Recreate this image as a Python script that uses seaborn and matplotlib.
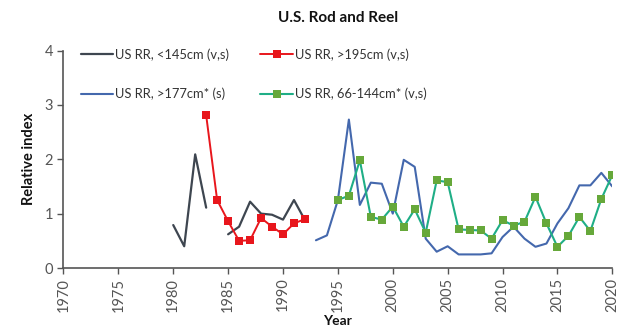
import numpy as np
import pandas as pd
import matplotlib
matplotlib.use("Agg")
import matplotlib.pyplot as plt
from matplotlib.lines import Line2D
import seaborn as sns

# Relative index series, US rod and reel
years_lt145 = [1980, 1981, 1982, 1983, 1985, 1986, 1987, 1988, 1989, 1990, 1991, 1992]
vals_lt145 = [0.79, 0.40, 2.09, 1.11, 0.62, 0.76, 1.22, 1.00, 0.98, 0.89, 1.25, 0.88]
seg_lt145 = [0, 0, 0, 0, 1, 1, 1, 1, 1, 1, 1, 1]

years_gt195 = list(range(1983, 1993))
vals_gt195 = [2.81, 1.25, 0.86, 0.50, 0.51, 0.92, 0.76, 0.62, 0.82, 0.90]

years_gt177 = list(range(1993, 2021))
vals_gt177 = [0.51, 0.60, 1.25, 2.73, 1.16, 1.57, 1.55, 1.00, 1.99, 1.86,
              0.54, 0.30, 0.40, 0.25, 0.25, 0.25, 0.27, 0.57, 0.76, 0.54,
              0.39, 0.45, 0.82, 1.10, 1.52, 1.52, 1.75, 1.50]

years_66_144 = list(range(1995, 2021))
vals_66_144 = [1.25, 1.33, 1.98, 0.94, 0.89, 1.13, 0.76, 1.08, 0.65, 1.61,
               1.58, 0.71, 0.70, 0.69, 0.54, 0.88, 0.78, 0.85, 1.31, 0.82,
               0.39, 0.59, 0.94, 0.68, 1.27, 1.71]

labels = ["US RR, <145cm (v,s)", "US RR, >195cm (v,s)",
          "US RR, >177cm* (s)", "US RR, 66-144cm* (v,s)"]

sns.set_theme(style="white")
plt.rcParams["font.family"] = ["Lato", "DejaVu Sans"]

fig = plt.figure(figsize=(6.18, 3.31), dpi=100)
ax = fig.add_axes([0.1027, 0.1903, 0.8881, 0.6571])

df_a = pd.DataFrame({"year": years_lt145, "val": vals_lt145, "seg": seg_lt145})
sns.lineplot(data=df_a, x="year", y="val", units="seg", estimator=None,
             color="#3e4650", lw=1.6, ax=ax, legend=False)

df_b = pd.DataFrame({"year": years_gt195, "val": vals_gt195})
sns.lineplot(data=df_b, x="year", y="val", color="#e8161c", lw=1.4,
             marker="s", markersize=5.5, markeredgewidth=0, ax=ax)

df_c = pd.DataFrame({"year": years_gt177, "val": vals_gt177})
sns.lineplot(data=df_c, x="year", y="val", color="#4468ad", lw=1.5, ax=ax)

df_d = pd.DataFrame({"year": years_66_144, "val": vals_66_144})
sns.lineplot(data=df_d, x="year", y="val", color="#1fae86", lw=1.5,
             marker="s", markersize=5.5, markerfacecolor="#66a83a",
             markeredgewidth=0, ax=ax)

handles = [
    Line2D([], [], color="#3e4650", lw=1.6),
    Line2D([], [], color="#4468ad", lw=1.5),
    Line2D([], [], color="#e8161c", lw=1.4, marker="s", markersize=5.5, markeredgewidth=0),
    Line2D([], [], color="#1fae86", lw=1.5, marker="s", markersize=5.5,
           markerfacecolor="#66a83a", markeredgewidth=0),
]
leg_labels = [labels[0], labels[2], labels[1], labels[3]]
ax.legend(handles, leg_labels, ncol=2, frameon=False, loc="upper left",
          bbox_to_anchor=(0.01, 1.065), fontsize=9.3, handlelength=2.5,
          handletextpad=0.2, columnspacing=2.4, labelspacing=2.1,
          labelcolor="#333333")

ax.set_xlim(1970, 2020)
ax.set_ylim(0, 4)
ax.set_xticks(range(1970, 2021, 5))
ax.set_yticks([0, 1, 2, 3, 4])
ax.tick_params(axis="x", labelrotation=90, labelsize=10.5, colors="#555555",
               length=4, width=1, direction="out", bottom=True, pad=3)
ax.tick_params(axis="y", labelsize=10.5, colors="#555555", length=4, width=1,
               direction="out", left=True)
for sp in ["top", "right"]:
    ax.spines[sp].set_visible(False)
for sp in ["left", "bottom"]:
    ax.spines[sp].set_color("#555555")
    ax.spines[sp].set_linewidth(1.2)

ax.set_xlabel("Year", fontsize=10, fontweight="bold", color="#111111", labelpad=2)
ax.set_ylabel("Relative index", fontsize=10.5, fontweight="bold", color="#111111", labelpad=6)
fig.text(0.547, 0.945, "U.S. Rod and Reel", ha="center", va="center",
         fontsize=11, fontweight="bold", color="#111111")

fig.savefig("out.png", dpi=100)
